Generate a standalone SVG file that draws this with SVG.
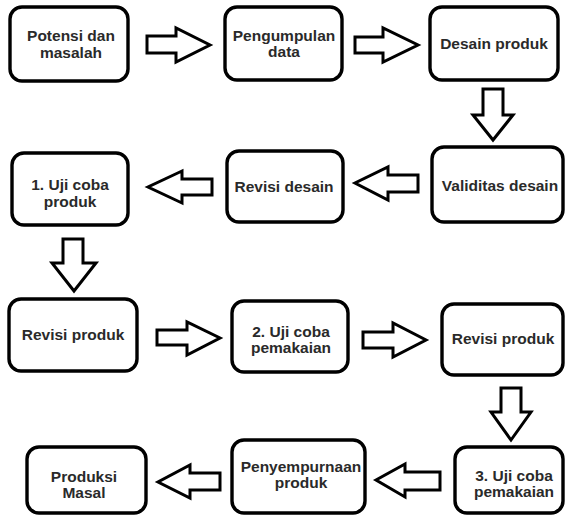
<svg xmlns="http://www.w3.org/2000/svg" width="566" height="516" viewBox="0 0 566 516">
<style>
.box{fill:#fff;stroke:#000;stroke-width:3.4}
.arr{fill:#fff;stroke:#000;stroke-width:3;stroke-linejoin:miter}
text{font-family:"Liberation Sans",Arial,sans-serif;font-weight:bold;font-size:15.5px;fill:#2a2a2a;text-anchor:middle}
</style>
<rect width="566" height="516" fill="#fff"/>
<g id="connectors">
<polygon class="arr" points="147,36 176,36 176,28 210,45 176,62 176,53 147,53"/>
<polygon class="arr" points="355,37 383,37 383,28 418,45 383,62 383,53 355,53"/>
<polygon class="arr" points="483,89 503,89 503,115 513,115 493,140 473,115 483,115"/>
<polygon class="arr" points="418,175 388,175 388,167 355,183 388,200 388,192 418,192"/>
<polygon class="arr" points="212,179 182,179 182,171 148,187 182,203 182,195 212,195"/>
<polygon class="arr" points="63,239 83,239 83,263 96,263 74,291 52,263 63,263"/>
<polygon class="arr" points="157,330 187,330 187,322 220,338 187,355 187,345 157,345"/>
<polygon class="arr" points="363,332 393,332 393,323 426,340 393,357 393,348 363,348"/>
<polygon class="arr" points="501,388 521,388 521,412 531,412 511,440 491,412 501,412"/>
<polygon class="arr" points="440,472 405,472 405,464 376,480 405,497 405,490 440,490"/>
<polygon class="arr" points="220,473 190,473 190,465 158,482 190,498 190,490 220,490"/>
</g>
<g id="n1"><rect class="box" x="10" y="7" width="118" height="74" rx="12"/><text x="71" y="41">Potensi dan</text><text x="71" y="58">masalah</text></g>
<g id="n2"><rect class="box" x="225" y="7" width="117" height="73" rx="12"/><text x="284" y="41">Pengumpulan</text><text x="284" y="57">data</text></g>
<g id="n3"><rect class="box" x="430" y="7" width="128" height="73" rx="12"/><text x="494" y="49">Desain produk</text></g>
<g id="n4"><rect class="box" x="432" y="147" width="131" height="75" rx="12"/><text x="500" y="191">Validitas desain</text></g>
<g id="n5"><rect class="box" x="227" y="151" width="116" height="71" rx="12"/><text x="284" y="192">Revisi desain</text></g>
<g id="n6"><rect class="box" x="12" y="153" width="116" height="72" rx="12"/><text x="70" y="190">1. Uji coba</text><text x="70" y="207">produk</text></g>
<g id="n7"><rect class="box" x="9" y="299" width="128" height="72" rx="12"/><text x="73" y="340">Revisi produk</text></g>
<g id="n8"><rect class="box" x="232" y="301" width="116" height="71" rx="12"/><text x="291" y="337">2. Uji coba</text><text x="291" y="353">pemakaian</text></g>
<g id="n9"><rect class="box" x="442" y="304" width="121" height="71" rx="12"/><text x="503" y="344">Revisi produk</text></g>
<g id="n10"><rect class="box" x="455" y="447" width="108" height="66" rx="12"/><text x="514" y="481">3. Uji coba</text><text x="514" y="497">pemakaian</text></g>
<g id="n11"><rect class="box" x="232" y="440" width="133" height="73" rx="12"/><text x="301" y="472">Penyempurnaan</text><text x="301" y="488">produk</text></g>
<g id="n12"><rect class="box" x="27" y="447" width="119" height="66" rx="12"/><text x="84" y="482">Produksi</text><text x="84" y="498">Masal</text></g>
</svg>
